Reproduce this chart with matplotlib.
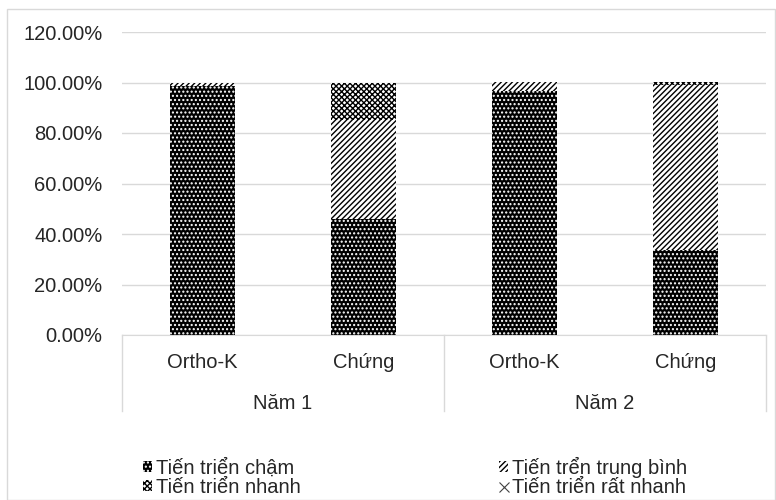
import matplotlib.pyplot as plt
from matplotlib.patches import Patch, Rectangle
from matplotlib.lines import Line2D
from matplotlib.ticker import FuncFormatter
import numpy as np

plt.rcParams['font.family'] = ['Liberation Sans', 'DejaVu Sans']
plt.rcParams['hatch.linewidth'] = 1.0

# categories: group (year) and sub-category
groups = ['Năm 1', 'Năm 2']
subgroups = ['Ortho-K', 'Chứng', 'Ortho-K', 'Chứng']

# percentages per series, one value per bar
series_names = ['Tiến triển chậm', 'Tiến trển trung bình', 'Tiến triển nhanh', 'Tiến triển rất nhanh']
cham = [98.5, 46.0, 96.5, 33.5]
trung_binh = [1.5, 39.0, 3.5, 65.5]
nhanh = [0.0, 15.0, 0.0, 1.0]
rat_nhanh = [0.0, 0.0, 0.0, 0.0]
series_values = [cham, trung_binh, nhanh, rat_nhanh]

# face / hatch colour / hatch for each series
styles = [
    dict(facecolor='black', edgecolor='white', hatch='....'),
    dict(facecolor='white', edgecolor='black', hatch='//////'),
    dict(facecolor='white', edgecolor='black', hatch='xxxxxx'),
    dict(facecolor='white', edgecolor='black', hatch='x'),
]

FS = 14.5
TXT = '#262626'

fig = plt.figure(figsize=(7.76, 5.0), dpi=100)
ax = fig.add_axes([122 / 776, 0.33, 644 / 776, 0.606])

x = np.arange(len(subgroups))
bottom = np.zeros(len(subgroups))
for vals, st, name in zip(series_values, styles, series_names):
    vals = np.array(vals)
    ax.bar(x, vals, width=0.4, bottom=bottom, linewidth=0, label=name, zorder=2, **st)
    bottom += vals

ax.set_xlim(-0.5, len(subgroups) - 0.5)
ax.set_ylim(0, 120)
ax.set_yticks(np.arange(0, 121, 20))
ax.yaxis.set_major_formatter(FuncFormatter(lambda v, p: f'{v:.2f}%'))
ax.tick_params(axis='y', length=0, labelsize=FS, pad=14, colors=TXT)
ax.grid(axis='y', color='#d9d9d9', linewidth=1, zorder=0)
for s in ['top', 'right', 'left']:
    ax.spines[s].set_visible(False)
ax.spines['bottom'].set_color('#d9d9d9')

# two-level category axis
ax.set_xticks([])
trans = ax.get_xaxis_transform()
for xi, lab in zip(x, subgroups):
    ax.text(xi, -0.09, lab, transform=trans, ha='center', va='center', fontsize=FS, color=TXT)
for gi, g in enumerate(groups):
    ax.text(gi * 2 + 0.5, -0.225, g, transform=trans, ha='center', va='center', fontsize=FS, color=TXT)
for xb in [-0.5, 1.5, 3.5]:
    ax.plot([xb, xb], [0, -0.25], transform=trans, color='#d9d9d9', linewidth=1, clip_on=False)

# legend: fill row-wise in two columns; the empty series shows as a cross
handles = [Patch(label=n, linewidth=0, **st) for n, st in zip(series_names[:3], styles[:3])]
handles.append(Line2D([], [], marker='x', linestyle='none', color='#404040',
                      markersize=7, markeredgewidth=0.8, label=series_names[3]))
order = [0, 2, 1, 3]
leg = fig.legend([handles[i] for i in order], [series_names[i] for i in order],
                 ncol=2, loc='upper left', bbox_to_anchor=(143 / 776, 1 - 457 / 500),
                 frameon=False, fontsize=FS, handlelength=0.45, handleheight=0.45,
                 handletextpad=0.2, columnspacing=9.85, labelspacing=0.0,
                 borderpad=0, borderaxespad=0)
for t in leg.get_texts():
    t.set_color(TXT)

fig.patches.append(Rectangle((0.009, 0.0), 0.99, 0.982, transform=fig.transFigure,
                             fill=False, edgecolor='#d9d9d9', linewidth=1))

fig.savefig('out.png', dpi=100)
